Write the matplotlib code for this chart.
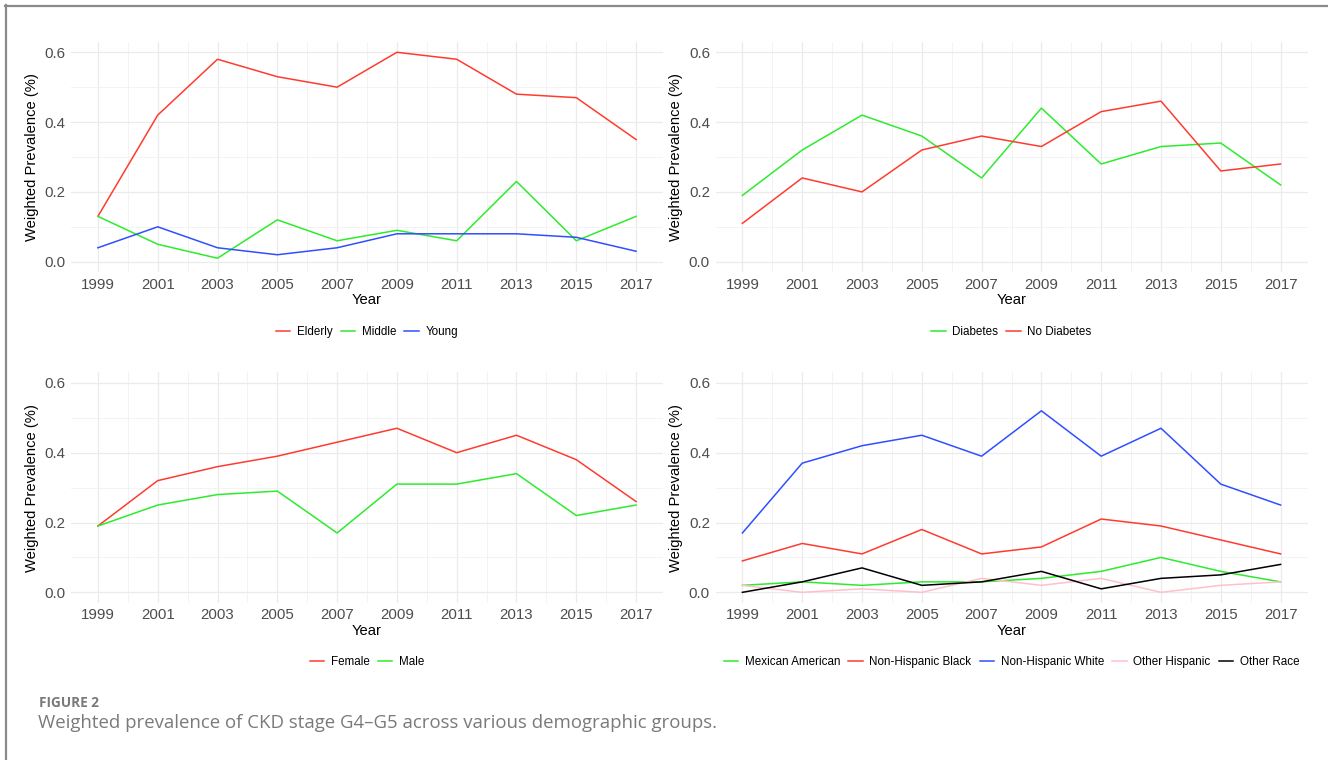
import matplotlib
matplotlib.use('Agg')
import matplotlib.pyplot as plt
from matplotlib.lines import Line2D
from matplotlib.ticker import MultipleLocator

years = [1999, 2001, 2003, 2005, 2007, 2009, 2011, 2013, 2015, 2017]

# age groups
elderly = [0.13, 0.42, 0.58, 0.53, 0.50, 0.60, 0.58, 0.48, 0.47, 0.35]
middle = [0.13, 0.05, 0.01, 0.12, 0.06, 0.09, 0.06, 0.23, 0.06, 0.13]
young = [0.04, 0.10, 0.04, 0.02, 0.04, 0.08, 0.08, 0.08, 0.07, 0.03]

# diabetes status
diabetes = [0.19, 0.32, 0.42, 0.36, 0.24, 0.44, 0.28, 0.33, 0.34, 0.22]
no_diabetes = [0.11, 0.24, 0.20, 0.32, 0.36, 0.33, 0.43, 0.46, 0.26, 0.28]

# sex
female = [0.19, 0.32, 0.36, 0.39, 0.43, 0.47, 0.40, 0.45, 0.38, 0.26]
male = [0.19, 0.25, 0.28, 0.29, 0.17, 0.31, 0.31, 0.34, 0.22, 0.25]

# race / ethnicity
mexican_american = [0.02, 0.03, 0.02, 0.03, 0.03, 0.04, 0.06, 0.10, 0.06, 0.03]
nh_black = [0.09, 0.14, 0.11, 0.18, 0.11, 0.13, 0.21, 0.19, 0.15, 0.11]
nh_white = [0.17, 0.37, 0.42, 0.45, 0.39, 0.52, 0.39, 0.47, 0.31, 0.25]
other_hispanic = [0.02, 0.00, 0.01, 0.00, 0.04, 0.02, 0.04, 0.00, 0.02, 0.03]
other_race = [0.00, 0.03, 0.07, 0.02, 0.03, 0.06, 0.01, 0.04, 0.05, 0.08]

RED = '#FF3B30'
GREEN = '#2EEB2E'
BLUE = '#2F4FFF'
PINK = '#FFC0CB'
BLACK = '#000000'

panels = [
    [('Elderly', elderly, RED), ('Middle', middle, GREEN), ('Young', young, BLUE)],
    [('Diabetes', diabetes, GREEN), ('No Diabetes', no_diabetes, RED)],
    [('Female', female, RED), ('Male', male, GREEN)],
    [('Mexican American', mexican_american, GREEN),
     ('Non-Hispanic Black', nh_black, RED),
     ('Non-Hispanic White', nh_white, BLUE),
     ('Other Hispanic', other_hispanic, PINK),
     ('Other Race', other_race, BLACK)],
]

plt.rcParams['font.family'] = ['Liberation Sans', 'DejaVu Sans']

fig = plt.figure(figsize=(13.28, 7.6), dpi=100)
fig.patch.set_facecolor('white')

W, H = 1328, 760
lefts = [71, 715.5]
tops = [272.2, 602.8]
ax_w, ax_h = 592, 230.4

positions = [
    (lefts[0], tops[0]), (lefts[1], tops[0]),
    (lefts[0], tops[1]), (lefts[1], tops[1]),
]

for (px, py), series in zip(positions, panels):
    ax = fig.add_axes([px / W, 1 - py / H, ax_w / W, ax_h / H])

    for label, vals, col in series:
        ax.plot(years, vals, color=col, linewidth=1.1, label=label)

    ax.set_xlim(1998.1, 2017.9)
    ax.set_ylim(-0.03, 0.63)
    ax.set_xticks(years)
    ax.xaxis.set_minor_locator(MultipleLocator(1))
    ax.set_yticks([0.0, 0.2, 0.4, 0.6])
    ax.set_yticklabels(['0.0', '0.2', '0.4', '0.6'])
    ax.yaxis.set_minor_locator(MultipleLocator(0.1))

    ax.grid(True, which='major', color='#EBEBEB', linewidth=0.9)
    ax.grid(True, which='minor', color='#F1F1F1', linewidth=0.6)
    ax.set_axisbelow(True)

    for s in ax.spines.values():
        s.set_visible(False)

    ax.tick_params(which='both', length=0)
    ax.tick_params(axis='x', pad=4, labelsize=10.8, labelcolor='#4D4D4D')
    ax.tick_params(axis='y', pad=4, labelsize=10.8, labelcolor='#4D4D4D')

    ax.set_xlabel('Year', fontsize=10.6, labelpad=1)
    ax.set_ylabel('Weighted Prevalence (%)', fontsize=10.6, labelpad=4)

    ax.legend(
        loc='center',
        bbox_to_anchor=(0.5, -0.258),
        ncol=len(series),
        frameon=False,
        fontsize=8.4,
        handlelength=1.25,
        handletextpad=0.55,
        columnspacing=0.7,
    )

# figure frame (top and left edges)
fig.add_artist(Line2D([5 / W, 1], [1 - 5.5 / H, 1 - 5.5 / H], color='#8A8A8A', linewidth=1.6))
fig.add_artist(Line2D([5.5 / W, 5.5 / W], [0, 1 - 5 / H], color='#8A8A8A', linewidth=1.6))

fig.text(39 / W, 1 - 703 / H, 'FIGURE 2', fontsize=9.8, fontweight='bold',
         color='#7A7A7A', family=['Open Sans', 'DejaVu Sans'], va='center', ha='left')
fig.text(38 / W, 1 - 723 / H,
         'Weighted prevalence of CKD stage G4\u2013G5 across various demographic groups.',
         fontsize=13.4, color='#7A7A7A', family=['Open Sans', 'DejaVu Sans'],
         va='center', ha='left')

fig.savefig('out.png', dpi=100, facecolor='white')
